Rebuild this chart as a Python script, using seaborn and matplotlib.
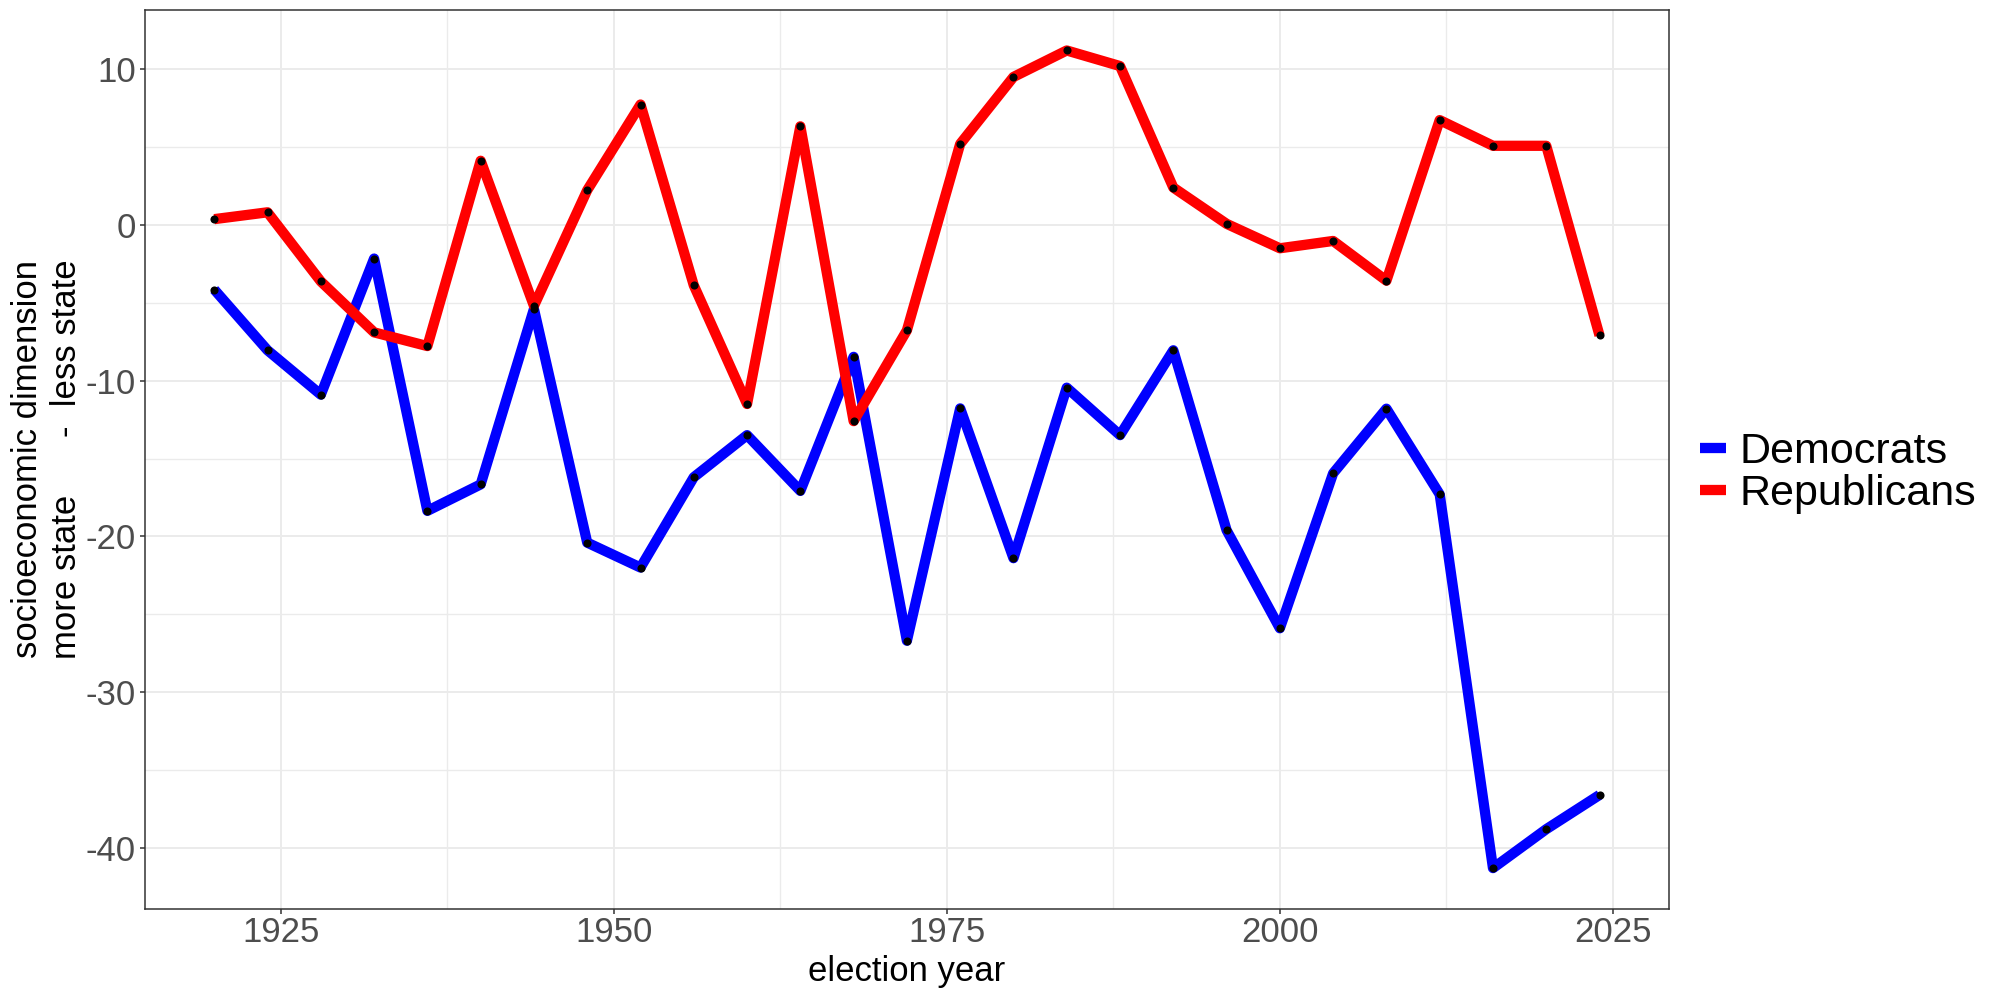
import numpy as np
import pandas as pd
import matplotlib
matplotlib.use("Agg")
import matplotlib.pyplot as plt
from matplotlib.ticker import FixedLocator
import seaborn as sns

years = [1920, 1924, 1928, 1932, 1936, 1940, 1944, 1948, 1952, 1956, 1960, 1964, 1968,
         1972, 1976, 1980, 1984, 1988, 1992, 1996, 2000, 2004, 2008, 2012, 2016, 2020, 2024]
democrats = [-4.15, -8.05, -10.9, -2.16, -18.36, -16.66, -5.4, -20.4, -22.0, -16.2, -13.5,
             -17.08, -8.47, -26.7, -11.78, -21.4, -10.45, -13.5, -8.05, -19.6, -25.9,
             -15.95, -11.8, -17.3, -41.3, -38.8, -36.6]
republicans = [0.37, 0.81, -3.63, -6.9, -7.78, 4.12, -5.2, 2.23, 7.73, -3.88, -11.5,
               6.33, -12.6, -6.77, 5.2, 9.5, 11.2, 10.2, 2.4, 0.07, -1.5, -1.03, -3.58,
               6.73, 5.08, 5.08, -7.1]
parties = ["Democrats", "Republicans"]
party_colors = {"Democrats": "#0000FF", "Republicans": "#FF0000"}
x_ticks = [1925, 1950, 1975, 2000, 2025]
x_minor = [1937.5, 1962.5, 1987.5, 2012.5]
y_ticks = [-40, -30, -20, -10, 0, 10]
y_minor = [-35, -25, -15, -5, 5]
x_title = "election year"
y_title = "socioeconomic dimension\nmore state      -  less state"

df = pd.concat([
    pd.DataFrame({"year": years, "score": democrats, "party": "Democrats"}),
    pd.DataFrame({"year": years, "score": republicans, "party": "Republicans"}),
], ignore_index=True)

sns.set_style("white")
plt.rcParams["font.family"] = ["Liberation Sans", "DejaVu Sans"]

fig = plt.figure(figsize=(20, 10), dpi=100)
ax = fig.add_axes([0.0725, 0.091, 0.7619, 0.8994])

sns.lineplot(data=df, x="year", y="score", hue="party", hue_order=parties,
             palette=party_colors, linewidth=7.4, ax=ax, sort=True,
             solid_capstyle="butt", solid_joinstyle="round", zorder=3)
sns.scatterplot(data=df, x="year", y="score", color="black", s=34, linewidth=0,
                ax=ax, zorder=4, legend=False)

ax.margins(x=0.05, y=0.05)
ax.xaxis.set_major_locator(FixedLocator(x_ticks))
ax.xaxis.set_minor_locator(FixedLocator(x_minor))
ax.yaxis.set_major_locator(FixedLocator(y_ticks))
ax.yaxis.set_minor_locator(FixedLocator(y_minor))
ax.set_xticklabels([str(t) for t in x_ticks])
ax.set_yticklabels([str(t) for t in y_ticks])

ax.grid(which="major", color="#EBEBEB", linewidth=1.4, zorder=0)
ax.grid(which="minor", color="#EBEBEB", linewidth=1.0, zorder=0)
ax.set_axisbelow(True)

for sp in ax.spines.values():
    sp.set_visible(True)
    sp.set_color("#333333")
    sp.set_linewidth(1.1)

ax.tick_params(which="major", length=3.6, width=1.1, color="#333333",
               labelsize=25, labelcolor="#4D4D4D", bottom=True, left=True)
ax.tick_params(axis="x", which="major", pad=1.5)
ax.tick_params(axis="y", which="major", pad=3.0)
ax.tick_params(which="minor", length=0)

ax.set_xlabel(x_title, fontsize=25, color="black", labelpad=4)
ax.set_ylabel(y_title, fontsize=25, color="black", labelpad=1.5,
              multialignment="center", linespacing=1.24)

handles, labels = ax.get_legend_handles_labels()
if ax.get_legend() is not None:
    ax.get_legend().remove()
leg = fig.legend(handles, labels, loc="center left", bbox_to_anchor=(0.850, 0.527),
                 frameon=False, fontsize=31, handlelength=0.6, handletextpad=0.32,
                 labelspacing=0.03, borderpad=0, borderaxespad=0)
for txt in leg.get_texts():
    txt.set_color("black")
for line in leg.get_lines():
    line.set_linewidth(7.4)
    line.set_solid_capstyle("butt")

fig.savefig("out.png", dpi=100, facecolor="white")
